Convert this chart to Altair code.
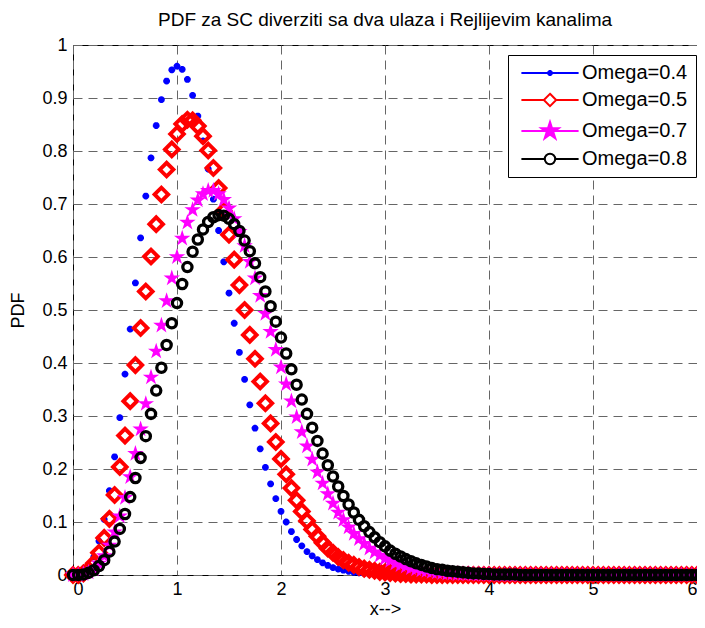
import altair as alt
import pandas as pd

TITLE = "PDF za SC diverziti sa dva ulaza i Rejlijevim kanalima"
SERIES_NAMES = ["Omega=0.4", "Omega=0.5", "Omega=0.7", "Omega=0.8"]
COLORS = ["#0000ff", "#ff0000", "#ff00ff", "#000000"]

X_VALUES = [
    0.0, 0.05, 0.1, 0.15, 0.2, 0.25, 0.3, 0.35, 0.4, 0.45,
    0.5, 0.55, 0.6, 0.65, 0.7, 0.75, 0.8, 0.85, 0.9, 0.95,
    1.0, 1.05, 1.1, 1.15, 1.2, 1.25, 1.3, 1.35, 1.4, 1.45,
    1.5, 1.55, 1.6, 1.65, 1.7, 1.75, 1.8, 1.85, 1.9, 1.95,
    2.0, 2.05, 2.1, 2.15, 2.2, 2.25, 2.3, 2.35, 2.4, 2.45,
    2.5, 2.55, 2.6, 2.65, 2.7, 2.75, 2.8, 2.85, 2.9, 2.95,
    3.0, 3.05, 3.1, 3.15, 3.2, 3.25, 3.3, 3.35, 3.4, 3.45,
    3.5, 3.55, 3.6, 3.65, 3.7, 3.75, 3.8, 3.85, 3.9, 3.95,
    4.0, 4.05, 4.1, 4.15, 4.2, 4.25, 4.3, 4.35, 4.4, 4.45,
    4.5, 4.55, 4.6, 4.65, 4.7, 4.75, 4.8, 4.85, 4.9, 4.95,
    5.0, 5.05, 5.1, 5.15, 5.2, 5.25, 5.3, 5.35, 5.4, 5.45,
    5.5, 5.55, 5.6, 5.65, 5.7, 5.75, 5.8, 5.85, 5.9, 5.95,
    6.0,
]

Y_OMEGA_04 = [
    0.0, 0.001, 0.004, 0.015, 0.034, 0.064, 0.105, 0.159, 0.223, 0.297,
    0.379, 0.464, 0.551, 0.636, 0.715, 0.787, 0.848, 0.897, 0.932, 0.953,
    0.960, 0.954, 0.935, 0.905, 0.866, 0.819, 0.766, 0.709, 0.650, 0.591,
    0.532, 0.475, 0.420, 0.369, 0.321, 0.277, 0.238, 0.203, 0.172, 0.144,
    0.120, 0.100, 0.082, 0.067, 0.055, 0.044, 0.036, 0.029, 0.023, 0.018,
    0.014, 0.011, 0.009, 0.007, 0.005, 0.004, 0.003, 0.002, 0.002, 0.001,
    0.001, 0.001, 0.001, 0.0, 0.0, 0.0, 0.0, 0.0, 0.0, 0.0,
    0.0, 0.0, 0.0, 0.0, 0.0, 0.0, 0.0, 0.0, 0.0, 0.0,
    0.0, 0.0, 0.0, 0.0, 0.0, 0.0, 0.0, 0.0, 0.0, 0.0,
    0.0, 0.0, 0.0, 0.0, 0.0, 0.0, 0.0, 0.0, 0.0, 0.0,
    0.0, 0.0, 0.0, 0.0, 0.0, 0.0, 0.0, 0.0, 0.0, 0.0,
    0.0, 0.0, 0.0, 0.0, 0.0, 0.0, 0.0, 0.0, 0.0, 0.0,
    0.0,
]

Y_OMEGA_05 = [
    0.0, 0.0, 0.003, 0.010, 0.022, 0.042, 0.070, 0.106, 0.151, 0.204,
    0.263, 0.328, 0.396, 0.466, 0.535, 0.601, 0.662, 0.718, 0.765, 0.803,
    0.832, 0.851, 0.859, 0.858, 0.847, 0.828, 0.801, 0.768, 0.730, 0.687,
    0.642, 0.595, 0.547, 0.500, 0.453, 0.408, 0.365, 0.324, 0.286, 0.251,
    0.219, 0.190, 0.164, 0.141, 0.120, 0.102, 0.086, 0.073, 0.061, 0.050,
    0.042, 0.034, 0.028, 0.023, 0.019, 0.015, 0.012, 0.010, 0.008, 0.006,
    0.005, 0.004, 0.003, 0.002, 0.002, 0.001, 0.001, 0.001, 0.001, 0.0,
    0.0, 0.0, 0.0, 0.0, 0.0, 0.0, 0.0, 0.0, 0.0, 0.0,
    0.0, 0.0, 0.0, 0.0, 0.0, 0.0, 0.0, 0.0, 0.0, 0.0,
    0.0, 0.0, 0.0, 0.0, 0.0, 0.0, 0.0, 0.0, 0.0, 0.0,
    0.0, 0.0, 0.0, 0.0, 0.0, 0.0, 0.0, 0.0, 0.0, 0.0,
    0.0, 0.0, 0.0, 0.0, 0.0, 0.0, 0.0, 0.0, 0.0, 0.0,
    0.0,
]

Y_OMEGA_07 = [
    0.0, 0.0, 0.002, 0.005, 0.011, 0.022, 0.036, 0.056, 0.081, 0.111,
    0.146, 0.185, 0.229, 0.275, 0.323, 0.373, 0.422, 0.471, 0.517, 0.560,
    0.600, 0.635, 0.665, 0.689, 0.707, 0.719, 0.725, 0.725, 0.719, 0.708,
    0.692, 0.672, 0.648, 0.621, 0.591, 0.560, 0.527, 0.493, 0.459, 0.425,
    0.392, 0.360, 0.328, 0.298, 0.270, 0.243, 0.218, 0.194, 0.173, 0.153,
    0.135, 0.118, 0.104, 0.090, 0.078, 0.068, 0.059, 0.050, 0.043, 0.037,
    0.031, 0.027, 0.022, 0.019, 0.016, 0.013, 0.011, 0.009, 0.008, 0.006,
    0.005, 0.004, 0.003, 0.003, 0.002, 0.002, 0.002, 0.001, 0.001, 0.001,
    0.001, 0.0, 0.0, 0.0, 0.0, 0.0, 0.0, 0.0, 0.0, 0.0,
    0.0, 0.0, 0.0, 0.0, 0.0, 0.0, 0.0, 0.0, 0.0, 0.0,
    0.0, 0.0, 0.0, 0.0, 0.0, 0.0, 0.0, 0.0, 0.0, 0.0,
    0.0, 0.0, 0.0, 0.0, 0.0, 0.0, 0.0, 0.0, 0.0, 0.0,
    0.0,
]

Y_OMEGA_08 = [
    0.0, 0.0, 0.001, 0.004, 0.009, 0.017, 0.028, 0.044, 0.063, 0.087,
    0.115, 0.147, 0.183, 0.221, 0.262, 0.304, 0.348, 0.391, 0.434, 0.475,
    0.513, 0.549, 0.581, 0.610, 0.633, 0.652, 0.666, 0.675, 0.679, 0.678,
    0.672, 0.662, 0.649, 0.631, 0.611, 0.588, 0.562, 0.535, 0.507, 0.478,
    0.448, 0.418, 0.388, 0.359, 0.331, 0.304, 0.278, 0.253, 0.229, 0.207,
    0.186, 0.167, 0.149, 0.133, 0.118, 0.104, 0.092, 0.081, 0.071, 0.062,
    0.054, 0.046, 0.040, 0.035, 0.030, 0.026, 0.022, 0.019, 0.016, 0.013,
    0.011, 0.010, 0.008, 0.007, 0.006, 0.005, 0.004, 0.003, 0.003, 0.002,
    0.002, 0.001, 0.001, 0.001, 0.001, 0.001, 0.0, 0.0, 0.0, 0.0,
    0.0, 0.0, 0.0, 0.0, 0.0, 0.0, 0.0, 0.0, 0.0, 0.0,
    0.0, 0.0, 0.0, 0.0, 0.0, 0.0, 0.0, 0.0, 0.0, 0.0,
    0.0, 0.0, 0.0, 0.0, 0.0, 0.0, 0.0, 0.0, 0.0, 0.0,
    0.0,
]

X_TICKS = [0, 1, 2, 3, 4, 5, 6]
Y_TICKS = [0.0, 0.1, 0.2, 0.3, 0.4, 0.5, 0.6, 0.7, 0.8, 0.9, 1.0]

FONT = "Liberation Sans"

# marker shapes (unit paths)
ASTERISK = "M-1,0L1,0M0,-1L0,1M-0.7,-0.7L0.7,0.7M-0.7,0.7L0.7,-0.7"
STAR = ("M0,-1L0.2245,-0.309L0.951,-0.309L0.363,0.118L0.588,0.809L0,0.382"
        "L-0.588,0.809L-0.363,0.118L-0.951,-0.309L-0.2245,-0.309Z")

# legend symbols: line sample + marker
LEG_ASTERISK = ("M-4.4,0L4.4,0M-0.45,0L0.45,0M0,-0.45L0,0.45"
                "M-0.32,-0.32L0.32,0.32M-0.32,0.32L0.32,-0.32")
LEG_DIAMOND = "M-4.4,0L-0.95,0M0.95,0L4.4,0M0,-0.95L0.95,0L0,0.95L-0.95,0Z"
LEG_STAR = ("M-4.4,0L4.4,0M0,-1.4L0.314,-0.433L1.331,-0.433L0.508,0.165L0.823,1.133"
            "L0,0.535L-0.823,1.133L-0.508,0.165L-1.331,-0.433L-0.314,-0.433Z")
LEG_CIRCLE = ("M-4.4,0L-0.8,0M0.8,0L4.4,0"
              "M0.8,0A0.8,0.8 0 1,1 -0.8,0A0.8,0.8 0 1,1 0.8,0Z")
LEGEND_PATHS = [LEG_ASTERISK, LEG_DIAMOND, LEG_STAR, LEG_CIRCLE]
LEGEND_FILLS = ["transparent", "#ffffff", "#ff00ff", "#ffffff"]

rows = []
for name, ys in zip(SERIES_NAMES, [Y_OMEGA_04, Y_OMEGA_05, Y_OMEGA_07, Y_OMEGA_08]):
    for xv, yv in zip(X_VALUES, ys):
        rows.append({"x": xv, "y": yv, "series": name})
df = pd.DataFrame(rows)

x_enc = alt.X(
    "x:Q",
    scale=alt.Scale(domain=[0, 6], nice=False, zero=False),
    axis=alt.Axis(values=X_TICKS, title="x-->", labelPadding=5, titlePadding=2, format="~g"),
)
y_enc = alt.Y(
    "y:Q",
    scale=alt.Scale(domain=[0, 1], nice=False),
    axis=alt.Axis(values=Y_TICKS, title="PDF", labelPadding=6, titlePadding=14, format="~g"),
)

base = alt.Chart(df)

marker_styles = [
    dict(shape=ASTERISK, filled=False, size=46, strokeWidth=2.3),
    dict(shape="diamond", filled=False, size=185, strokeWidth=3.9),
    dict(shape=STAR, filled=True, size=300, strokeWidth=0),
    dict(shape="circle", filled=False, size=85, strokeWidth=3.3),
]

layers = []
for name, color, style in zip(SERIES_NAMES, COLORS, marker_styles):
    layers.append(
        base.transform_filter(alt.datum.series == name)
        .mark_point(color=color, opacity=1, **style)
        .encode(x=x_enc, y=y_enc)
    )

legend_def = alt.Legend(
    title=None,
    orient="none",
    legendX=435,
    legendY=10,
    symbolSize=169,
    symbolStrokeWidth=2,
    symbolOffset=24,
    labelOffset=22,
    labelFont=FONT,
    labelFontSize=20,
    labelColor="black",
    labelLimit=300,
    padding=8,
    rowPadding=6,
    strokeColor="black",
    fillColor="white",
    cornerRadius=0,
    symbolOpacity=1,
)

legend_layer = (
    base.transform_filter("false")
    .mark_point(filled=True, opacity=1)
    .encode(
        shape=alt.Shape("series:N", scale=alt.Scale(domain=SERIES_NAMES, range=LEGEND_PATHS), legend=legend_def),
        fill=alt.Fill("series:N", scale=alt.Scale(domain=SERIES_NAMES, range=LEGEND_FILLS), legend=legend_def),
        stroke=alt.Stroke("series:N", scale=alt.Scale(domain=SERIES_NAMES, range=COLORS), legend=legend_def),
    )
)

chart = (
    alt.layer(*layers, legend_layer)
    .properties(
        width=624,
        height=530,
        title=alt.TitleParams(
            text=TITLE, font=FONT, fontSize=19, fontWeight="normal",
            color="black", anchor="middle", offset=6,
        ),
        autosize=alt.AutoSizeParams(type="none"),
        padding={"left": 65, "top": 37, "right": 0, "bottom": 44},
    )
    .configure_view(stroke="black", strokeWidth=1)
    .configure_axis(
        labelFont=FONT,
        titleFont=FONT,
        labelFontSize=18,
        titleFontSize=18,
        titleFontWeight="normal",
        labelColor="black",
        titleColor="black",
        grid=True,
        gridDash=[9, 6],
        gridColor="#666666",
        gridOpacity=1,
        gridWidth=1,
        ticks=False,
        domain=False,
    )
)

chart.save("out.html", embed_options={"renderer": "svg", "actions": False})
